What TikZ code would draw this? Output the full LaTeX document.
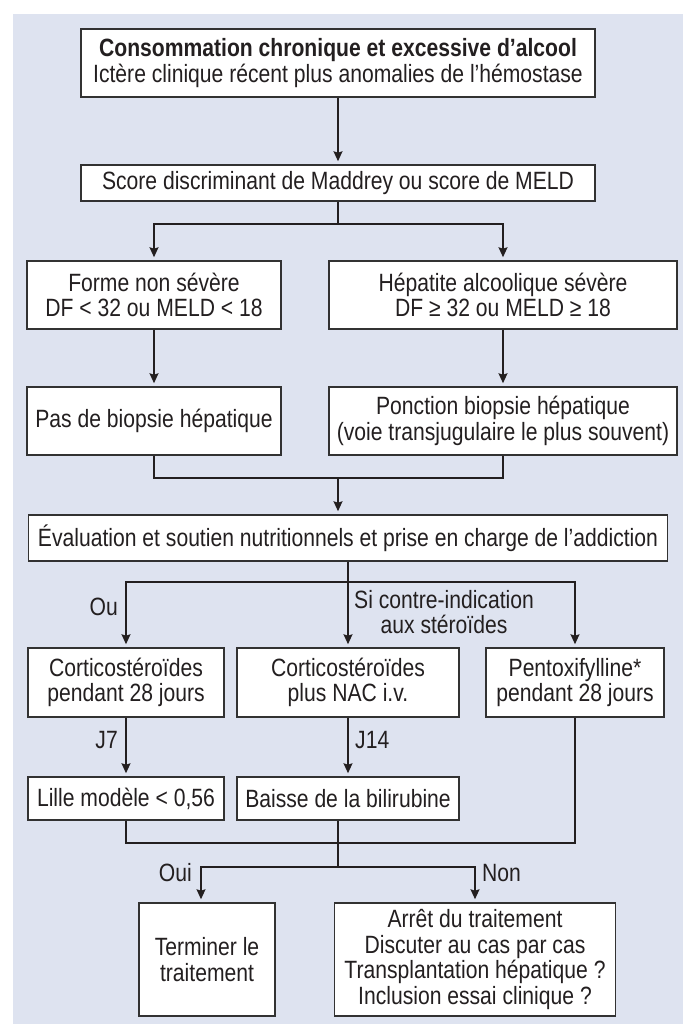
\documentclass[tikz,border=0pt]{standalone}
\usepackage{fontspec}
\setmainfont{Liberation Sans}[FakeStretch=0.845]
\usetikzlibrary{arrows.meta}
\definecolor{bgc}{RGB}{222,227,240}
\definecolor{boxc}{RGB}{50,50,50}
\definecolor{linec}{RGB}{35,31,32}
\newcommand\fsz{\fontsize{25}{25.5}\selectfont}
\begin{document}
\begin{tikzpicture}[x=1pt,y=-1pt,
  box/.style={draw=boxc, fill=white, line width=1.5pt, align=center, inner sep=0pt, font=\fsz, text=linec},
  ln/.style={draw=linec, line width=1.5pt},
  arr/.style={-{Stealth[length=10pt,width=9pt,inset=1.5pt]}, shorten >=3pt},
  lbl/.style={font=\fsz, text=linec, inner sep=0pt, align=center}]
\useasboundingbox (0,0) rectangle (683,1024);
\fill[bgc] (13,14) rectangle (683,1024);

\node[box, minimum width=514pt, minimum height=68pt] (top) at (338,63)
  {\textbf{Consommation chronique et excessive d’alcool}\\Ictère clinique récent plus anomalies de l’hémostase};
\node[box, minimum width=514pt, minimum height=36pt] (score) at (338,183)
  {Score discriminant de Maddrey ou score de MELD};
\node[box, minimum width=254pt, minimum height=68pt] (L1) at (154,295)
  {Forme non sévère\\DF < 32 ou MELD < 18};
\node[box, minimum width=348pt, minimum height=68pt] (R1) at (503,295)
  {Hépatite alcoolique sévère\\DF ≥ 32 ou MELD ≥ 18};
\node[box, minimum width=254pt, minimum height=68pt] (L2) at (154,421)
  {Pas de biopsie hépatique};
\node[box, minimum width=348pt, minimum height=68pt] (R2) at (503,421)
  {Ponction biopsie hépatique\\(voie transjugulaire le plus souvent)};
\node[box, minimum width=639pt, minimum height=46pt] (eval) at (348,538)
  {Évaluation et soutien nutritionnels et prise en charge de l’addiction};
\node[box, minimum width=196pt, minimum height=69pt] (A) at (126,682.5)
  {Corticostéroïdes\\pendant 28 jours};
\node[box, minimum width=222pt, minimum height=69pt] (B) at (348,682.5)
  {Corticostéroïdes\\plus NAC i.v.};
\node[box, minimum width=178pt, minimum height=69pt] (C) at (575,682.5)
  {Pentoxifylline*\\pendant 28 jours};
\node[box, minimum width=196pt, minimum height=43pt] (A4) at (126,798.5)
  {Lille modèle < 0,56};
\node[box, minimum width=222pt, minimum height=43pt] (B4) at (348,798.5)
  {Baisse de la bilirubine};
\node[box, minimum width=136pt, minimum height=113pt] (F1) at (207,959.5)
  {Terminer le\\traitement};
\node[box, minimum width=281pt, minimum height=113pt] (F2) at (475,959.5)
  {Arrêt du traitement\\Discuter au cas par cas\\Transplantation hépatique ?\\Inclusion essai clinique ?};

\coordinate (s1) at (338,224);
\coordinate (j1) at (338,478);
\coordinate (s2) at (348,582);
\coordinate (j2) at (338,843);
\coordinate (s3) at (338,867);

\draw[ln,arr] (top.south) -- (score.north);
\draw[ln] (score.south) -- (s1);
\draw[ln,arr] (s1) -| (L1.north);
\draw[ln,arr] (s1) -| (R1.north);
\draw[ln,arr] (L1.south) -- (L2.north);
\draw[ln,arr] (R1.south) -- (R2.north);
\draw[ln] (L2.south) |- (j1) -| (R2.south);
\draw[ln,arr] (j1) -- (j1 |- eval.north);
\draw[ln] (eval.south) -- (s2);
\draw[ln,arr] (s2) -| (A.north);
\draw[ln,arr] (s2) -| (C.north);
\draw[ln,arr] (s2) -- (B.north);
\draw[ln,arr] (A.south) -- (A4.north);
\draw[ln,arr] (B.south) -- (B4.north);
\draw[ln] (A4.south) |- (j2) -| (C.south);
\draw[ln] (j2 |- B4.south) -- (s3);
\draw[ln,arr] (s3) -| ([xshift=-6pt]F1.north);
\draw[ln,arr] (s3) -| (F2.north);

\node[lbl, anchor=east] (ou) at (118,607) {Ou};
\node[lbl, anchor=west] (si) at (354,612) {Si contre-indication\\aux stéroïdes};
\node[lbl, anchor=east] (j7) at (118,740) {J7};
\node[lbl, anchor=west] (j14) at (355,740) {J14};
\node[lbl, anchor=east] (oui) at (192,873) {Oui};
\node[lbl, anchor=west] (non) at (482,873) {Non};
\end{tikzpicture}
\end{document}
